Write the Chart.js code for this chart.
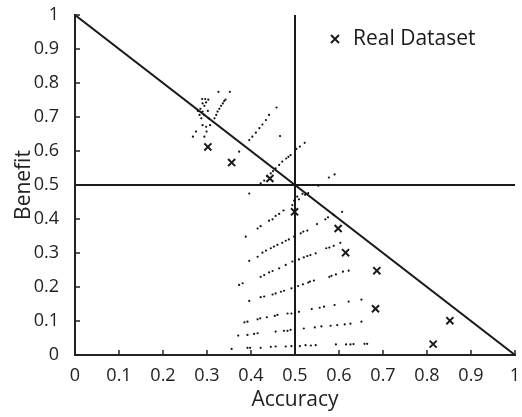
<!DOCTYPE html>
<html>
<head>
<meta charset="utf-8">
<script src="https://cdn.jsdelivr.net/npm/chart.js@4/dist/chart.umd.min.js"></script>
<style>
  html, body { margin: 0; padding: 0; background: #fff; }
  #wrap { width: 522px; height: 417px; }
</style>
</head>
<body>
<div id="wrap"><canvas id="grafico"></canvas></div>
<script>
// Real dataset (crosses)
const realAccuracy = [0.302, 0.356, 0.443, 0.499, 0.598, 0.615, 0.686, 0.683, 0.852, 0.814];
const realBenefit  = [0.612, 0.566, 0.519, 0.421, 0.372, 0.301, 0.248, 0.136, 0.101, 0.032];

// Simulated points (small dots)
const simAccuracy = [
  0.326, 0.352, 0.289, 0.296, 0.303, 0.290, 0.298, 0.294, 0.285, 0.279, 0.290, 0.302,
  0.283, 0.294, 0.287, 0.304, 0.290, 0.298, 0.307, 0.275, 0.268, 0.294, 0.299,
  0.317, 0.321, 0.324, 0.328, 0.332, 0.336, 0.339, 0.342,
  0.458, 0.396, 0.403, 0.411, 0.419, 0.426, 0.434, 0.441, 0.466, 0.373,
  0.422, 0.430, 0.437, 0.445, 0.450, 0.456, 0.464, 0.471, 0.480, 0.485, 0.490,
  0.503, 0.511, 0.522, 0.577, 0.590, 0.396, 0.553, 0.509, 0.523,
  0.415, 0.422, 0.441, 0.449, 0.456, 0.464, 0.474, 0.494, 0.498, 0.505, 0.517, 0.530,
  0.550, 0.569, 0.575, 0.588, 0.607, 0.388,
  0.415, 0.426, 0.434, 0.445, 0.452, 0.460, 0.471, 0.479, 0.486, 0.498, 0.513, 0.519, 0.528,
  0.571, 0.578, 0.588, 0.603, 0.396,
  0.464, 0.479, 0.494, 0.509, 0.520, 0.528, 0.535, 0.547,
  0.422, 0.430, 0.441, 0.449, 0.373, 0.381, 0.578, 0.583, 0.593, 0.609, 0.622,
  0.396, 0.422, 0.430, 0.449, 0.456, 0.468, 0.475, 0.492, 0.507, 0.518, 0.530, 0.534, 0.543,
  0.385, 0.392, 0.415, 0.421, 0.436, 0.454, 0.460, 0.483, 0.492, 0.500, 0.509, 0.538,
  0.556, 0.566, 0.590, 0.622, 0.651,
  0.371, 0.392, 0.407, 0.415, 0.456, 0.475, 0.483, 0.490, 0.520, 0.545, 0.560, 0.581,
  0.596, 0.613, 0.626, 0.651,
  0.356, 0.392, 0.398, 0.422, 0.445, 0.456, 0.479, 0.492, 0.511, 0.524, 0.536, 0.547,
  0.593, 0.616, 0.626, 0.633, 0.658, 0.664
];
const simBenefit = [
  0.774, 0.774, 0.753, 0.753, 0.751, 0.740, 0.743, 0.733, 0.724, 0.718, 0.716, 0.718,
  0.706, 0.706, 0.696, 0.696, 0.676, 0.671, 0.676, 0.657, 0.642, 0.642, 0.657,
  0.696, 0.706, 0.716, 0.724, 0.733, 0.740, 0.747, 0.751,
  0.728, 0.632, 0.642, 0.654, 0.667, 0.678, 0.691, 0.706, 0.644, 0.598,
  0.505, 0.513, 0.525, 0.534, 0.541, 0.549, 0.559, 0.569, 0.578, 0.583, 0.588,
  0.606, 0.613, 0.624, 0.522, 0.531, 0.475, 0.498, 0.458, 0.471,
  0.372, 0.379, 0.395, 0.399, 0.409, 0.415, 0.425, 0.441, 0.454, 0.466, 0.474, 0.476,
  0.385, 0.399, 0.405, 0.412, 0.421, 0.348,
  0.289, 0.301, 0.307, 0.314, 0.319, 0.324, 0.330, 0.336, 0.340, 0.348, 0.358, 0.363, 0.366,
  0.314, 0.316, 0.321, 0.330, 0.277,
  0.255, 0.265, 0.275, 0.281, 0.287, 0.291, 0.294, 0.299,
  0.230, 0.235, 0.243, 0.247, 0.206, 0.211, 0.230, 0.233, 0.237, 0.245, 0.248,
  0.159, 0.170, 0.172, 0.178, 0.181, 0.186, 0.189, 0.196, 0.203, 0.208, 0.213, 0.216, 0.219,
  0.096, 0.098, 0.105, 0.108, 0.111, 0.115, 0.118, 0.122, 0.122, 0.124, 0.127, 0.135,
  0.139, 0.142, 0.147, 0.157, 0.163,
  0.057, 0.059, 0.062, 0.064, 0.069, 0.071, 0.071, 0.074, 0.078, 0.081, 0.084, 0.086,
  0.088, 0.090, 0.092, 0.098,
  0.018, 0.021, 0.021, 0.021, 0.024, 0.025, 0.025, 0.026, 0.026, 0.029, 0.028, 0.029,
  0.031, 0.031, 0.031, 0.032, 0.033, 0.033
];

// Reference lines
const diagonalLine   = [{ x: 0, y: 1 }, { x: 1, y: 0 }];
const verticalLine   = [{ x: 0.5, y: 0 }, { x: 0.5, y: 1 }];
const horizontalLine = [{ x: 0, y: 0.5 }, { x: 1, y: 0.5 }];
const tickValues = [0, 0.1, 0.2, 0.3, 0.4, 0.5, 0.6, 0.7, 0.8, 0.9, 1];
const legendLabel = 'Real Dataset';

const fonte = '"Open Sans", "DejaVu Sans", sans-serif';

// Desenha os tracinhos dos ticks para dentro e a legenda no canto
const ticksInternos = {
  id: 'ticksInternos',
  afterDraw(chart) {
    const { ctx, chartArea, scales } = chart;
    ctx.save();
    ctx.strokeStyle = '#222';
    ctx.lineWidth = 1.5;
    tickValues.forEach(v => {
      const px = scales.x.getPixelForValue(v);
      ctx.beginPath();
      ctx.moveTo(px, chartArea.bottom);
      ctx.lineTo(px, chartArea.bottom - 5);
      ctx.stroke();
      const py = scales.y.getPixelForValue(v);
      ctx.beginPath();
      ctx.moveTo(chartArea.left, py);
      ctx.lineTo(chartArea.left + 5, py);
      ctx.stroke();
    });

    // legenda
    const lx = chartArea.right - 180, ly = chartArea.top + 24;
    ctx.lineWidth = 2;
    ctx.strokeStyle = '#1a1a1a';
    ctx.beginPath();
    ctx.moveTo(lx - 4, ly - 4); ctx.lineTo(lx + 4, ly + 4);
    ctx.moveTo(lx + 4, ly - 4); ctx.lineTo(lx - 4, ly + 4);
    ctx.stroke();
    ctx.fillStyle = '#1a1a1a';
    ctx.font = '21px ' + fonte;
    ctx.textBaseline = 'middle';
    ctx.fillText(legendLabel, lx + 18, ly);
    ctx.restore();
  }
};

const lineDataset = (pts) => ({
  label: '',
  data: pts,
  showLine: true,
  borderColor: '#1a1a1a',
  borderWidth: 2,
  pointRadius: 0,
  fill: false
});

const ctx = document.getElementById('grafico').getContext('2d');
const chart = new Chart(ctx, {
  type: 'scatter',
  data: {
    datasets: [
      {
        label: legendLabel,
        data: realAccuracy.map((a, i) => ({ x: a, y: realBenefit[i] })),
        pointStyle: 'crossRot',
        pointRadius: 5,
        pointBorderWidth: 2,
        borderColor: '#1a1a1a',
        backgroundColor: '#1a1a1a'
      },
      {
        label: 'Simulated',
        data: simAccuracy.map((a, i) => ({ x: a, y: simBenefit[i] })),
        pointStyle: 'circle',
        pointRadius: 1.1,
        pointBorderWidth: 0,
        backgroundColor: '#111',
        borderColor: '#111'
      },
      lineDataset(diagonalLine),
      lineDataset(verticalLine),
      lineDataset(horizontalLine)
    ]
  },
  options: {
    responsive: true,
    maintainAspectRatio: false,
    animation: false,
    layout: { padding: { left: 0, right: 5, top: 15, bottom: 0 } },
    plugins: {
      tooltip: { enabled: false },
      legend: { display: false }
    },
    scales: {
      x: {
        type: 'linear',
        min: 0,
        max: 1,
        grid: { display: false },
        border: { display: true, color: '#222', width: 2 },
        ticks: {
          stepSize: 0.1,
          padding: 2,
          color: '#222',
          font: { family: fonte, size: 18 },
          callback: v => String(Math.round(v * 10) / 10)
        },
        title: {
          display: true,
          text: 'Accuracy',
          color: '#222',
          font: { family: fonte, size: 21 },
          padding: { top: 0 }
        },
        afterFit: s => { s.height = 62; s.paddingLeft = 0; s.paddingRight = 0; }
      },
      y: {
        type: 'linear',
        min: 0,
        max: 1,
        grid: { display: false },
        border: { display: true, color: '#222', width: 2 },
        ticks: {
          stepSize: 0.1,
          padding: 8,
          color: '#222',
          font: { family: fonte, size: 18 },
          callback: v => String(Math.round(v * 10) / 10)
        },
        title: {
          display: true,
          text: 'Benefit',
          color: '#222',
          font: { family: fonte, size: 21 },
          padding: { top: 11, bottom: 0 }
        },
        afterFit: s => { s.width = 75; s.paddingTop = 0; s.paddingBottom = 0; }
      }
    }
  },
  plugins: [ticksInternos]
});
</script>
</body>
</html>
